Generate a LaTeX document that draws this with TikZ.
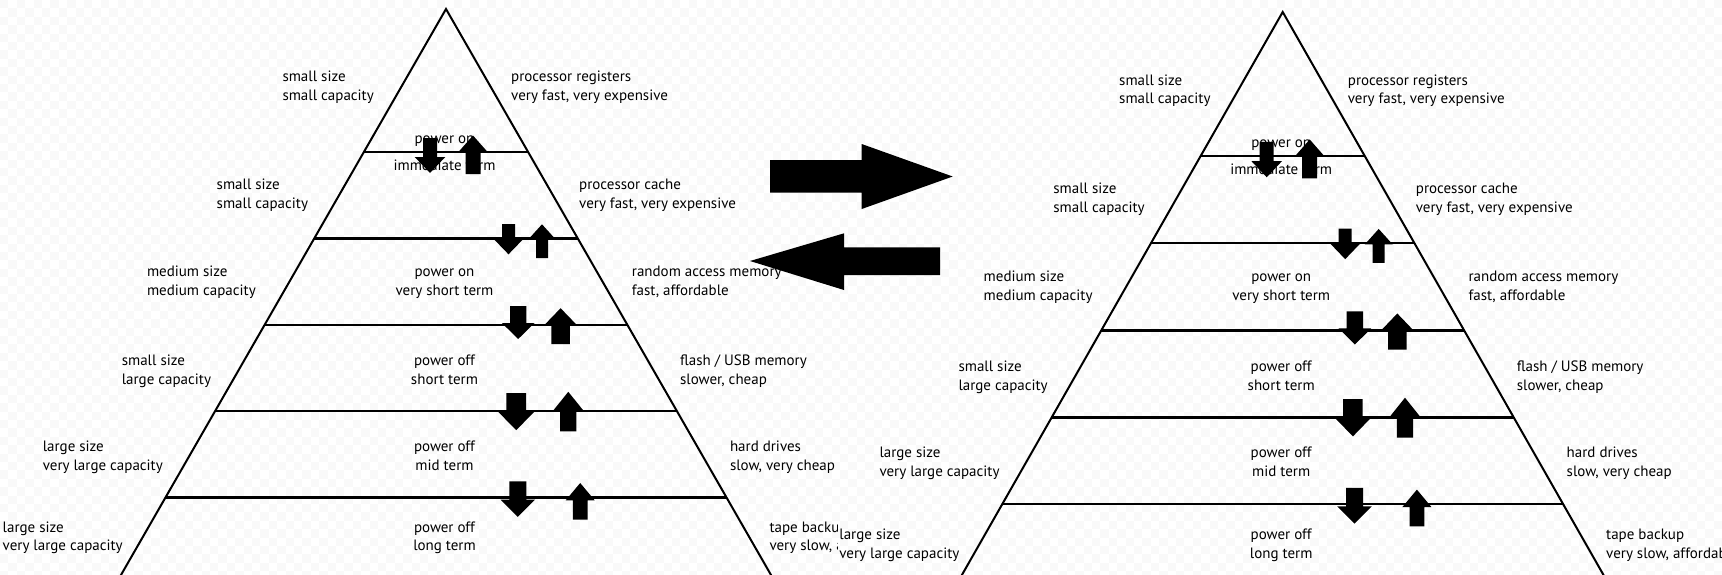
\documentclass[tikz,border=0pt]{standalone}
\usepackage{fontspec}
\setmainfont{PT Sans}
\usetikzlibrary{calc}
\tikzset{
  lbl/.style={inner sep=0pt, outer sep=0pt, font=\fontsize{15}{18.7}\selectfont, text=black},
  side/.style={line width=2pt, line join=miter, draw=black},
  level/.style={line width=2.2pt, draw=black},
  blk/.style={fill=black},
  checker/.style={fill=gray!5},
}
% block arrow: cx, end y, head-base y, tip y, shaft half width, head half width
\newcommand\blockarr[6]{\fill[blk] ({#1-#5},#2) -- ({#1+#5},#2) -- ({#1+#5},#3) -- ({#1+#6},#3) -- (#1,#4) -- ({#1-#6},#3) -- ({#1-#5},#3) -- cycle;}
% two-line label: name, anchor, x, first baseline, line 1, line 2
\newcommand\twoline[6]{%
  \node[lbl, anchor=#2] (#1a) at (#3,#4) {#5};
  \node[lbl, anchor=#2] (#1b) at ($(#1a.#2)+(0,18.7)$) {#6};}
\newcommand\panel[1]{%
  \coordinate (#1-apex) at (446,9);
  \coordinate (#1-bl) at (118.1,580);
  \coordinate (#1-br) at (773.9,580);
  \draw[side] (#1-bl) -- (#1-apex) -- (#1-br);
  \foreach \f in {0.25079,0.40175,0.55359,0.70455,0.85534}
    \draw[level] ($(#1-apex)!\f!(#1-bl)$) -- ($(#1-apex)!\f!(#1-br)$);
  % left column
  \twoline{#1-s1}{base west}{282.5}{81.45}{small size}{small capacity}
  \twoline{#1-s2}{base west}{216.7}{189.55}{small size}{small capacity}
  \twoline{#1-s3}{base west}{147}{276.85}{medium size}{medium capacity}
  \twoline{#1-s4}{base west}{121.8}{365.45}{small size}{large capacity}
  \twoline{#1-s5}{base west}{42.8}{451.55}{large size}{very large capacity}
  \twoline{#1-s6}{base west}{2.7}{532.15}{large size}{very large capacity}
  % right column
  \twoline{#1-d1}{base west}{511.2}{81.45}{processor registers}{very fast, very expensive}
  \twoline{#1-d2}{base west}{579.2}{189.55}{processor cache}{very fast, very expensive}
  \twoline{#1-d3}{base west}{631.9}{276.85}{random access memory}{fast, affordable}
  \twoline{#1-d4}{base west}{680.1}{365.45}{flash / USB memory}{slower, cheap}
  \twoline{#1-d5}{base west}{730}{451.55}{hard drives}{slow, very cheap}
  \twoline{#1-d6}{base west}{769.5}{532.15}{tape backup}{very slow, affordable}
  % middle column
  \node[lbl, anchor=base] (#1-p1a) at (444.5,143.5) {power on};
  \node[lbl, anchor=base] (#1-p1b) at (444.5,170.75) {immediate term};
  \twoline{#1-p2}{base}{444.5}{276.85}{power on}{very short term}
  \twoline{#1-p3}{base}{444.5}{365.45}{power off}{short term}
  \twoline{#1-p4}{base}{444.5}{451.55}{power off}{mid term}
  \twoline{#1-p5}{base}{444.5}{532.15}{power off}{long term}
  % small block arrows
  \blockarr{430}{138}{157}{173}{7}{15.3}
  \blockarr{473}{174}{152}{135.5}{7.5}{14.6}
  \blockarr{508.5}{224}{239}{254.3}{6.5}{14.8}
  \blockarr{542}{258}{239.5}{224.3}{6}{13.8}
  \blockarr{518.2}{306}{323}{339}{8.2}{16.3}
  \blockarr{560.6}{344}{325.2}{308.2}{9.3}{16.4}
  \blockarr{516.2}{393.2}{411.5}{430.2}{9.8}{18.3}
  \blockarr{568.3}{431.4}{410.8}{391.8}{8.1}{15.3}
  \blockarr{517.8}{481.3}{499.6}{516.8}{8.5}{17.3}
  \blockarr{580.2}{519.5}{500.3}{483}{7.4}{14.5}
}
\begin{document}
\begin{tikzpicture}[x=1pt,y=-1pt]
  \useasboundingbox (0,0) rectangle (1722,574);
  \fill[white] (0,0) rectangle (1722,574);
  \foreach \j in {0,...,68} {
    \pgfmathsetmacro\xo{mod(\j,2)*8.4}
    \pgfmathsetmacro\yo{\j*8.4}
    \foreach \i in {0,...,102} {
      \fill[checker] ({\i*16.8+\xo},\yo) rectangle ++(8.4,8.4);
    }
  }
  \begin{scope}
    \clip (0,0) rectangle (837,574);
    \panel{L}
  \end{scope}
  \begin{scope}
    \clip (837,0) rectangle (1722,574);
    \begin{scope}[xshift=836.7pt, yshift=-2.93pt, yscale=1.0076]
      \panel{R}
    \end{scope}
  \end{scope}
  % big exchange arrows
  \fill[blk] (770,160) -- (861.7,160) -- (861.7,144) -- (952.7,176.5) -- (861.7,209) -- (861.7,192.7) -- (770,192.7) -- cycle;
  \fill[blk] (750,261) -- (844,233.3) -- (844,247.3) -- (940,247.3) -- (940,275) -- (844,275) -- (844,290) -- cycle;
\end{tikzpicture}
\end{document}
